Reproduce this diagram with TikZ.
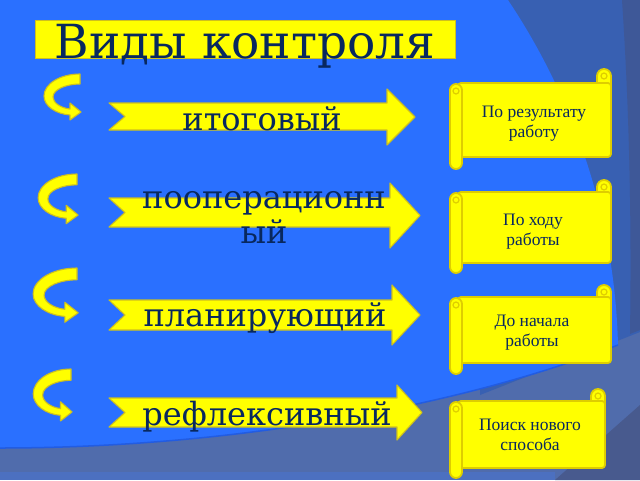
\documentclass[tikz,border=0pt]{standalone}
\usepackage{fontspec}
\setmainfont{DejaVu Serif}
\newfontfamily\scrollfont{Liberation Serif}
\definecolor{bgbright}{RGB}{42,112,255}
\definecolor{bgmid}{RGB}{56,96,178}
\definecolor{bgstrip}{RGB}{62,88,152}
\definecolor{bglow}{RGB}{80,108,172}
\definecolor{bgbottom}{RGB}{76,112,192}
\definecolor{bgcorner}{RGB}{72,90,142}
\definecolor{edgeblue}{RGB}{34,92,225}
\definecolor{yel}{RGB}{255,255,0}
\definecolor{yeledge}{RGB}{206,192,30}
\definecolor{scrolledge}{RGB}{222,205,0}
\definecolor{navy}{RGB}{8,40,95}
\tikzset{
  yshape/.style={fill=yel, draw=yeledge, line width=1.1pt, line join=round},
  scrollpart/.style={fill=yel, draw=scrolledge, line width=1.8pt, line join=round},
  bigtext/.style={font=\fontsize{32}{35}\selectfont, text=navy, align=center, inner sep=0pt, anchor=base},
  scrolltext/.style={font=\scrollfont\fontsize{17.5}{20}\selectfont, text=navy, align=center, inner sep=0pt, anchor=base},
  curlarrow/.pic={
    \path[yshape] (0,0) -- (0,10)
      .. controls (-13,10) and (-27,15) .. (-27,23)
      .. controls (-27,29) and (-19,34) .. (-10,35)
      -- (-10,29) -- (1,38) -- (-10,46) -- (-10,41)
      .. controls (-24,40) and (-36,32) .. (-36,22)
      .. controls (-36,10) and (-20,0) .. (0,0) -- cycle;
  }
}
% notched arrow: #1 body top, #2 body bottom, #3 head base x, #4 head top, #5 head bottom, #6 tip x
\newcommand\notcharrow[6]{%
  \path[yshape] (109,#1) -- (#3,#1) -- (#3,#4) -- (#6,{(#4+#5)/2}) -- (#3,#5) -- (#3,#2)
     -- (109,#2) -- (125,{(#1+#2)/2}) -- cycle;}
% scroll: #1 L, #2 R, #3 tab top, #4 top, #5 bottom, #6 roll bottom
\newcommand\scrollshape[6]{%
  \path[scrollpart] (#2-14,#4+4) -- (#2-14,#3+7) arc (180:360:7) -- (#2,#4+4) -- cycle;
  \draw[scrolledge, line width=1.2pt] (#2-7,#3+7) circle (3);
  \path[scrollpart, rounded corners=3pt] (#1+8,#4) rectangle (#2,#5);
  \path[scrollpart] (#1,#4+7) arc (180:360:6) -- (#1+12,#6-6) arc (0:180:6) -- cycle;
  \draw[scrolledge, line width=1.2pt] (#1+6,#4+8) circle (3);}
\begin{document}
\begin{tikzpicture}[x=1pt,y=-1pt]
\useasboundingbox (0,0) rectangle (640,480);
% background
\fill[bglow] (0,0) rectangle (640,480);
\fill[bgmid] (480,0) -- (640,0) -- (640,332) -- (480,395) -- cycle;
\fill[bgstrip] (622,0) -- (640,0) -- (640,330) -- (630,334) .. controls (632,200) and (628,90) .. (622,0) -- cycle;
\fill[bgcorner] (555,480) -- (640,405) -- (640,480) -- cycle;
\fill[bgbottom] (0,472) rectangle (555,480);
\fill[bgbright] (0,0) -- (508,0) .. controls (575,100) and (615,220) .. (618,345)
   .. controls (450,410) and (220,448) .. (0,448) -- cycle;
\draw[edgeblue, line width=1.5pt] (618,345) .. controls (450,410) and (220,448) .. (0,448);
% title
\path[fill=yel, draw=yeledge, line width=1pt] (35,20) rectangle (455,58);
\node[font=\fontsize{47}{52}\selectfont, text=navy, inner sep=0pt, anchor=base] (title) at (245,58) {Виды контроля};
% curl arrows
\pic at (80,74) {curlarrow};
\pic[xscale=1.08, yscale=1.08] at (77,174) {curlarrow};
\pic[xscale=1.22, yscale=1.18] at (77,268) {curlarrow};
\pic[xscale=1.05, yscale=1.13] at (71,369) {curlarrow};
% notched arrows
\notcharrow{103}{130}{387}{89}{145}{415}
\notcharrow{198}{227}{390}{183}{248}{420}
\notcharrow{300}{330}{392}{285}{345}{420}
\notcharrow{398}{427}{397}{385}{440}{422}
\node[bigtext] (t1) at (262,130) {итоговый};
\node[bigtext] (t2) at (264,243) {пооперационн\\ый};
\node[bigtext] (t3) at (265,326) {планирующий};
\node[bigtext] (t4) at (267,425) {рефлексивный};
% scrolls
\scrollshape{450}{611}{69}{83}{157}{169}
\scrollshape{450}{611}{180}{192}{263}{273}
\scrollshape{450}{611}{285}{297}{363}{374}
\scrollshape{450}{605}{389}{401}{468}{478}
\node[scrolltext] (s1) at (534,137) {По результату\\работу};
\node[scrolltext] (s2) at (533,245) {По ходу\\работы};
\node[scrolltext] (s3) at (532,346) {До начала\\работы};
\node[scrolltext] (s4) at (530,450) {Поиск нового\\способа};
\end{tikzpicture}
\end{document}
